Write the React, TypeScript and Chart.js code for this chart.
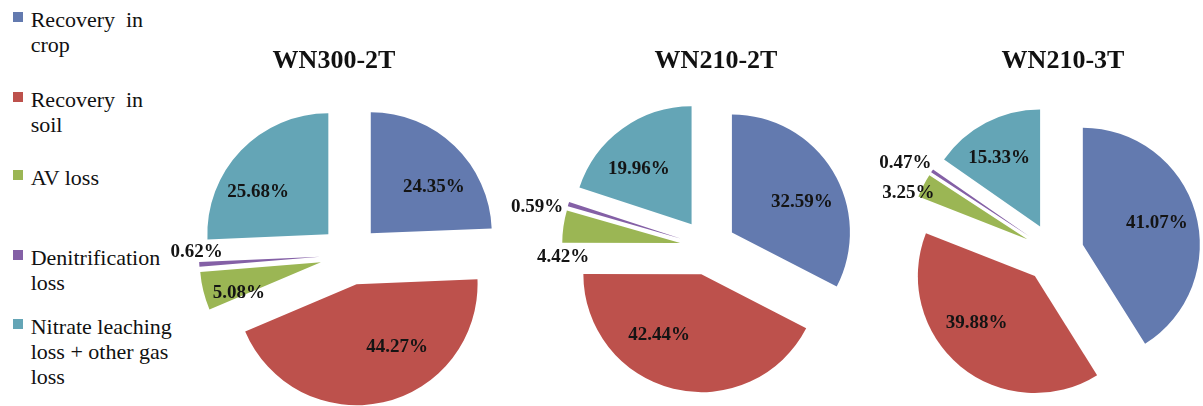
import React, { useEffect, useRef } from 'react';
import { Chart, PieController, ArcElement } from 'chart.js';

Chart.register(PieController, ArcElement);

// Nitrogen fate categories (slice order, clockwise from 12 o'clock)
const categories = [
  'Recovery in crop',
  'Recovery in soil',
  'AV loss',
  'Denitrification loss',
  'Nitrate leaching loss + other gas loss',
];

// Legend text as it wraps in the side column
const legendLines: string[][] = [
  ['Recovery\u00a0\u00a0in', 'crop'],
  ['Recovery\u00a0\u00a0in', 'soil'],
  ['AV loss'],
  ['Denitrification', 'loss'],
  ['Nitrate leaching', 'loss + other gas', 'loss'],
];

const treatments = ['WN300-2T', 'WN210-2T', 'WN210-3T'];

// Share of applied N (%) per treatment
const wn300_2t = [24.35, 44.27, 5.08, 0.62, 25.68];
const wn210_2t = [32.59, 42.44, 4.42, 0.59, 19.96];
const wn210_3t = [41.07, 39.88, 3.25, 0.47, 15.33];

const seriesValues = [wn300_2t, wn210_2t, wn210_3t];

const sliceColors = ['#637AAF', '#BD514C', '#9BB654', '#8460A6', '#64A5B6'];

const SERIF = '"Liberation Serif", "Times New Roman", serif';

// Panel geometry: pie centre, radius, explosion distance, title centre
const panels = [
  { cx: 350, cy: 255, radius: 121, explode: 30, titleX: 334 },
  { cx: 708, cy: 247, radius: 118, explode: 28, titleX: 716 },
  { cx: 1054, cy: 253, radius: 117, explode: 30, titleX: 1063 },
];

// Label placement per slice: [distance as fraction of radius from the slice tip,
// angular shift in degrees from the slice bisector]
const labelPlacement: [number, number][][] = [
  [[0.645, 10], [0.62, -20], [0.725, -7], [1.02, 6], [0.675, -13]],
  [[0.645, 8], [0.63, 21], [1.0, -15], [1.25, -4.6], [0.65, -7.5]],
  [[0.66, -0.5], [0.64, 11.4], [1.09, -6.2], [1.23, -3.2], [0.68, -3.5]],
];

const CANVAS_W = 400;
const CANVAS_H = 406;

// Draws each arc pushed outward along its bisector (exploded pie)
const explodePlugin = {
  id: 'explode',
  beforeDatasetDraw(chart: any, args: any, opts: any) {
    const ctx = chart.ctx;
    const d = opts.distance || 0;
    args.meta.data.forEach((arc: any) => {
      const mid = (arc.startAngle + arc.endAngle) / 2;
      ctx.save();
      ctx.translate(Math.cos(mid) * d, Math.sin(mid) * d);
      arc.draw(ctx);
      ctx.restore();
    });
    return false;
  },
};

// Percentage labels placed relative to each exploded slice
const sliceLabelPlugin = {
  id: 'sliceLabels',
  afterDatasetsDraw(chart: any, _args: any, opts: any) {
    const ctx = chart.ctx;
    const meta = chart.getDatasetMeta(0);
    const values = chart.data.datasets[0].data as number[];
    const d = opts.distance || 0;
    ctx.save();
    ctx.font = `bold 19px ${SERIF}`;
    ctx.fillStyle = '#141414';
    ctx.textAlign = 'center';
    ctx.textBaseline = 'middle';
    meta.data.forEach((arc: any, i: number) => {
      const [frac, shiftDeg] = opts.placement[i];
      const mid = (arc.startAngle + arc.endAngle) / 2;
      const tipX = arc.x + Math.cos(mid) * d;
      const tipY = arc.y + Math.sin(mid) * d;
      const a = mid + (shiftDeg * Math.PI) / 180;
      const r = frac * arc.outerRadius;
      ctx.fillText(values[i].toFixed(2) + '%', tipX + Math.cos(a) * r, tipY + Math.sin(a) * r);
    });
    ctx.restore();
  },
};

function PiePanel({ index }: { index: number }) {
  const ref = useRef<HTMLCanvasElement>(null);
  const p = panels[index];

  useEffect(() => {
    if (!ref.current) return;
    const chart = new Chart(ref.current, {
      type: 'pie',
      data: {
        labels: categories,
        datasets: [
          {
            data: seriesValues[index],
            backgroundColor: sliceColors,
            borderWidth: 0,
            radius: p.radius,
            clip: false,
          } as any,
        ],
      },
      options: {
        animation: false,
        responsive: false,
        events: [],
        layout: { padding: { top: 2 * p.cy - CANVAS_H } },
        plugins: {
          legend: { display: false },
          tooltip: { enabled: false },
          explode: { distance: p.explode },
          sliceLabels: { distance: p.explode, placement: labelPlacement[index] },
        } as any,
      },
      plugins: [explodePlugin, sliceLabelPlugin],
    });
    return () => chart.destroy();
  }, [index]);

  return (
    <>
      <canvas
        ref={ref}
        width={CANVAS_W}
        height={CANVAS_H}
        style={{
          position: 'absolute',
          left: p.cx - CANVAS_W / 2,
          top: 0,
          width: CANVAS_W,
          height: CANVAS_H,
        }}
      />
      <div
        style={{
          position: 'absolute',
          left: p.titleX,
          top: 44.7,
          transform: 'translateX(-50%)',
          fontFamily: SERIF,
          fontWeight: 'bold',
          fontSize: 26,
          lineHeight: '30px',
          whiteSpace: 'nowrap',
          color: '#111',
        }}
      >
        {treatments[index]}
      </div>
    </>
  );
}

const legendTops = [6.8, 86.8, 165.1, 245.1, 314.1];

function Legend() {
  return (
    <>
      {legendLines.map((lines, i) => (
        <div key={categories[i]} style={{ position: 'absolute', left: 0, top: legendTops[i] }}>
          <div
            style={{
              position: 'absolute',
              left: 13,
              top: 5,
              width: 10,
              height: 10,
              background: sliceColors[i],
            }}
          />
          <div
            style={{
              position: 'absolute',
              left: 30.7,
              top: 0,
              fontFamily: SERIF,
              fontSize: 22,
              fontWeight: 'normal',
              lineHeight: '25px',
              whiteSpace: 'pre',
              color: '#111',
            }}
          >
            {lines.map((l) => (
              <div key={l}>{l}</div>
            ))}
          </div>
        </div>
      ))}
    </>
  );
}

export default function App() {
  return (
    <div
      style={{
        position: 'fixed',
        left: 0,
        top: 0,
        width: 1203,
        height: 406,
        overflow: 'hidden',
        background: '#fff',
        fontFamily: SERIF,
      }}
    >
      <Legend />
      {panels.map((_, i) => (
        <PiePanel key={treatments[i]} index={i} />
      ))}
    </div>
  );
}
